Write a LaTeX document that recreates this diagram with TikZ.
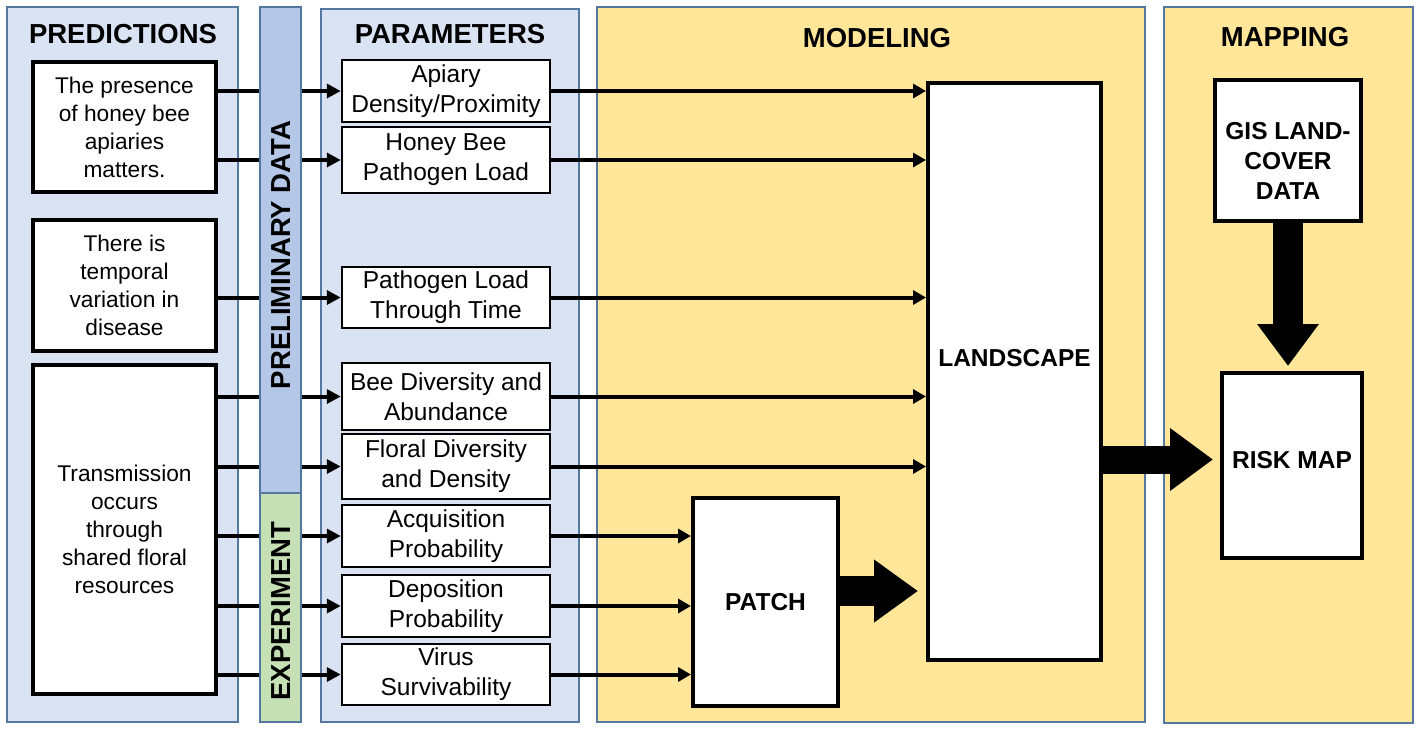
\documentclass[tikz,border=0pt]{standalone}
\usepackage{fontspec}
\setmainfont{Liberation Sans}
\usetikzlibrary{arrows.meta,calc}
\definecolor{panelblue}{RGB}{218,227,243}
\definecolor{stripblue}{RGB}{180,199,231}
\definecolor{stripgreen}{RGB}{197,224,180}
\definecolor{panelyellow}{RGB}{255,230,153}
\definecolor{edgecol}{RGB}{84,120,160}
\begin{document}
\begin{tikzpicture}[x=1pt,y=-1pt,
 panel/.style={draw=edgecol,line width=1.5pt},
 predbox/.style={draw=black,fill=white,line width=4pt,align=center,font=\fontsize{22.7}{28}\selectfont,inner sep=0pt,minimum width=183pt},
 parbox/.style={draw=black,fill=white,line width=2.5pt,align=center,font=\fontsize{24.5}{30}\selectfont,inner sep=0pt,minimum width=208pt},
 bigbox/.style={draw=black,fill=white,line width=4pt,inner sep=0pt},
 title/.style={font=\fontsize{27.5}{30}\bfseries\selectfont,inner sep=0pt},
 boldlbl/.style={font=\fontsize{24.5}{30}\bfseries\selectfont,align=center,inner sep=0pt},
 conn/.style={line width=4pt,-{Triangle[length=14pt,width=14pt]}},
 conn2/.style={line width=4pt,-{Triangle[length=13pt,width=14pt]}},
 fatarrow/.style={line width=30pt,-{Triangle[length=44pt,width=60pt]}}
]
\useasboundingbox (0,0) rectangle (1420,731);
\fill[white] (0,0) rectangle (1420,731);
% panels
\draw[panel,fill=panelblue] (7,7) rectangle (238,722);
\draw[panel,fill=panelblue] (321,9) rectangle (579,722);
\draw[panel,fill=panelyellow] (597,7) rectangle (1145,722);
\draw[panel,fill=panelyellow] (1164,7) rectangle (1413,723);
% titles
\node[title] (tpred) at (123,34) {PREDICTIONS};
\node[title] (tpar) at (450,34) {PARAMETERS};
\node[title] (tmod) at (877,38) {MODELING};
\node[title] (tmap) at (1285,37) {MAPPING};
% prediction boxes
\node[predbox,minimum height=130pt] (pr1) at (124.5,127) {The presence\\of honey bee\\apiaries\\matters.};
\node[predbox,minimum height=131pt] (pr2) at (124.5,285.5) {There is\\temporal\\variation in\\disease};
\node[predbox,minimum height=329pt] (pr3) at (124.5,529.5) {Transmission\\occurs\\through\\shared floral\\resources};
% parameter boxes
\node[parbox,minimum height=62pt] (p1) at (446,91) {Apiary\\Density/Proximity};
\node[parbox,minimum height=66pt] (p2) at (446,160) {Honey Bee\\Pathogen Load};
\node[parbox,minimum height=61pt] (p3) at (446,297.5) {Pathogen Load\\Through Time};
\node[parbox,minimum height=67pt] (p4) at (446,396.5) {Bee Diversity and\\Abundance};
\node[parbox,minimum height=65pt] (p5) at (446,466.5) {Floral Diversity\\and Density};
\node[parbox,minimum height=62pt] (p6) at (446,536) {Acquisition\\Probability};
\node[parbox,minimum height=62pt] (p7) at (446,606) {Deposition\\Probability};
\node[parbox,minimum height=61pt] (p8) at (446,674.5) {Virus\\Survivability};
% prediction -> parameter connectors
\draw[conn] (p1.west -| pr1.east) -- (p1.west);
\draw[conn] (p2.west -| pr1.east) -- (p2.west);
\draw[conn] (p3.west -| pr2.east) -- (p3.west);
\draw[conn] (p4.west -| pr3.east) -- (p4.west);
\draw[conn] (p5.west -| pr3.east) -- (p5.west);
\draw[conn] (p6.west -| pr3.east) -- (p6.west);
\draw[conn] (p7.west -| pr3.east) -- (p7.west);
\draw[conn] (p8.west -| pr3.east) -- (p8.west);
% strips
\draw[panel,fill=stripblue] (260,7) rectangle (301,493);
\draw[panel,fill=stripgreen] (260,493) rectangle (301,722);
\node[title,rotate=90] (prelim) at (281,255) {PRELIMINARY DATA};
\node[title,rotate=90] (expt) at (281,611) {EXPERIMENT};
% modeling boxes
\node[bigbox,minimum width=173pt,minimum height=577pt] (land) at (1014.5,371.5) {};
\node[boldlbl] (landlbl) at (1014.5,358) {LANDSCAPE};
\node[bigbox,minimum width=145pt,minimum height=208pt,font=\fontsize{24.5}{30}\bfseries\selectfont] (patch) at (765.5,602) {PATCH};
% mapping boxes
\node[bigbox,minimum width=146pt,minimum height=141pt] (gis) at (1288,150.5) {};
\node[boldlbl] (gislbl) at (1288,160.5) {GIS LAND-\\COVER\\DATA};
\node[bigbox,minimum width=140pt,minimum height=185pt] (risk) at (1292,465.5) {};
\node[boldlbl] (risklbl) at (1292,460) {RISK MAP};
% parameter -> model connectors
\draw[conn2] (p1.east) -- (p1.east -| land.west);
\draw[conn2] (p2.east) -- (p2.east -| land.west);
\draw[conn2] (p3.east) -- (p3.east -| land.west);
\draw[conn2] (p4.east) -- (p4.east -| land.west);
\draw[conn2] (p5.east) -- (p5.east -| land.west);
\draw[conn2] (p6.east) -- (p6.east -| patch.west);
\draw[conn2] (p7.east) -- (p7.east -| patch.west);
\draw[conn2] (p8.east) -- (p8.east -| patch.west);
% fat arrows
\coordinate (pa) at ([yshift=11pt]patch.east);
\draw[fatarrow,shorten >=8pt] (pa) -- (pa -| land.west);
\coordinate (lr) at ($(risk.west)+(0,-6)$);
\draw[fatarrow,line width=28pt,-{Triangle[length=43pt,width=60pt]},shorten >=7pt] (lr -| land.east) -- (lr);
\draw[fatarrow,-{Triangle[length=42pt,width=59pt]},shorten >=5pt] (gis.south) -- (gis.south |- risk.north);
\end{tikzpicture}
\end{document}
